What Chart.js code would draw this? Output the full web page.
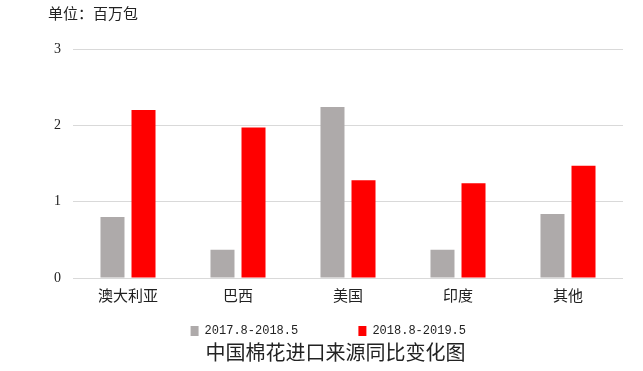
<!DOCTYPE html>
<html>
<head>
<meta charset="utf-8">
<script src="https://cdn.jsdelivr.net/npm/chart.js@4.4.0/dist/chart.umd.min.js"></script>
<style>
  html, body { margin: 0; padding: 0; background: #fff; }
  #wrap { width: 643px; height: 371px; }
</style>
</head>
<body>
<div id="wrap"><canvas id="chart"></canvas></div>
<script>
const categories = ['澳大利亚', '巴西', '美国', '印度', '其他'];
const seriesNames = ['2017.8-2018.5', '2018.8-2019.5'];
const values2017 = [0.80, 0.37, 2.24, 0.37, 0.84];
const values2018 = [2.20, 1.97, 1.28, 1.24, 1.47];
const yTicks = [0, 1, 2, 3];

const cjk = '"Liberation Serif", "Noto Sans CJK SC", serif';
const nb = n => '\u00a0'.repeat(n);

const ctx = document.getElementById('chart').getContext('2d');
new Chart(ctx, {
    type: 'bar',
    data: {
        labels: categories,
        datasets: [
            // trailing spaces spread the legend items like the original
            { label: seriesNames[0] + nb(6), data: values2017, backgroundColor: '#aeaaaa' },
            { label: seriesNames[1] + nb(2), data: values2018, backgroundColor: '#ff0000' }
        ]
    },
    options: {
        responsive: true,
        maintainAspectRatio: false,
        animation: false,
        layout: { padding: { left: 48, right: 20, top: 6, bottom: 4 } },
        datasets: { bar: { categoryPercentage: 0.564, barPercentage: 0.774 } },
        scales: {
            x: {
                grid: { display: false },
                border: { display: false },
                ticks: { color: '#222', font: { family: cjk, size: 15 }, padding: 2 }
            },
            y: {
                min: 0,
                max: 3,
                afterBuildTicks: axis => { axis.ticks = yTicks.map(v => ({ value: v })); },
                afterFit: axis => { axis.width = 25; },
                grid: { color: '#d9d9d9', drawTicks: false },
                border: { display: false },
                ticks: { color: '#222', font: { family: cjk, size: 14 }, padding: 12 }
            }
        },
        plugins: {
            legend: {
                position: 'bottom',
                labels: {
                    boxWidth: 8,
                    boxHeight: 10,
                    padding: 17,
                    color: '#222',
                    font: { family: '"Liberation Mono", monospace', size: 12 }
                }
            },
            title: {
                display: true,
                position: 'bottom',
                text: '中国棉花进口来源同比变化图',
                color: '#222',
                font: { family: cjk, size: 20, weight: 'normal' },
                padding: { top: -4, bottom: 0 }
            },
            subtitle: {
                display: true,
                position: 'top',
                align: 'start',
                text: '单位：百万包',
                color: '#222',
                font: { family: cjk, size: 15 },
                padding: { top: 0, bottom: 25 }
            },
            tooltip: { enabled: false }
        }
    }
});
</script>
</body>
</html>
